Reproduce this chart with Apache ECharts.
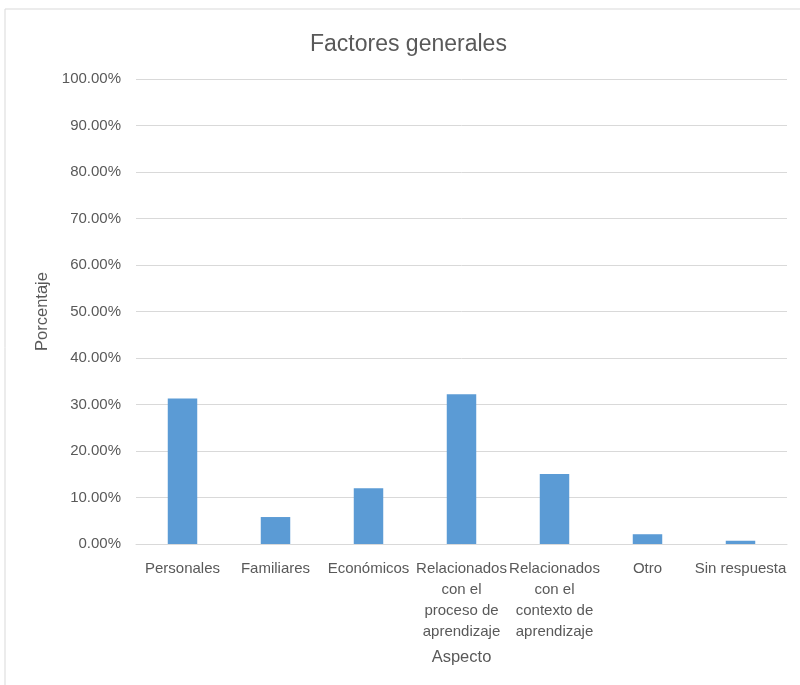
<!DOCTYPE html>
<html>
<head>
<meta charset="utf-8">
<script src="https://cdn.jsdelivr.net/npm/echarts@6/dist/echarts.min.js"></script>
<style>
  html, body { margin: 0; padding: 0; background: #fff; }
  #main { width: 800px; height: 685px; }
</style>
</head>
<body>
<div id="main"></div>
<script>
// datos
var categorias = ['Personales', 'Familiares', 'Económicos',
  'Relacionados\ncon el\nproceso de\naprendizaje',
  'Relacionados\ncon el\ncontexto de\naprendizaje',
  'Otro', 'Sin respuesta'];
var porcentajes = [31.3, 5.8, 12.0, 32.2, 15.05, 2.1, 0.7];
var ticksY = [0, 10, 20, 30, 40, 50, 60, 70, 80, 90, 100];

var fuente = 'Liberation Sans';
var gris = '#595959';

var chart = echarts.init(document.getElementById('main'), null, { renderer: 'canvas' });
chart.setOption({
  backgroundColor: '#fff',
  animation: false,
  textStyle: { fontFamily: fuente },
  graphic: [{
    type: 'rect',
    shape: { x: 5, y: 9, width: 820, height: 720 },
    style: { fill: 'none', stroke: '#d9d9d9', lineWidth: 1 },
    silent: true
  }],
  title: {
    text: 'Factores generales',
    left: 305,
    top: 28,
    textStyle: { color: gris, fontSize: 23, fontWeight: 'normal', fontFamily: fuente }
  },
  grid: { left: 136, right: 13, top: 79, bottom: 141 },
  xAxis: {
    type: 'category',
    data: categorias,
    name: 'Aspecto',
    nameLocation: 'middle',
    nameGap: 105,
    nameTextStyle: { color: gris, fontSize: 16.5 },
    axisLine: { lineStyle: { color: '#d9d9d9', width: 1 } },
    axisTick: { show: false },
    axisLabel: {
      interval: 0,
      color: gris,
      fontSize: 15,
      lineHeight: 21,
      margin: 14
    }
  },
  yAxis: {
    type: 'value',
    min: ticksY[0],
    max: ticksY[ticksY.length - 1],
    interval: 10,
    name: 'Porcentaje',
    nameLocation: 'middle',
    nameGap: 82,
    nameRotate: 90,
    nameTextStyle: { color: gris, fontSize: 16.5 },
    axisLine: { show: false },
    axisTick: { show: false },
    axisLabel: {
      color: gris,
      fontSize: 15,
      margin: 15,
      formatter: function (v) { return v.toFixed(2) + '%'; }
    },
    splitLine: { lineStyle: { color: '#d9d9d9', width: 1 } }
  },
  series: [{
    type: 'bar',
    data: porcentajes,
    barWidth: '31.7%',
    itemStyle: { color: '#5b9bd5' }
  }]
});
</script>
</body>
</html>
